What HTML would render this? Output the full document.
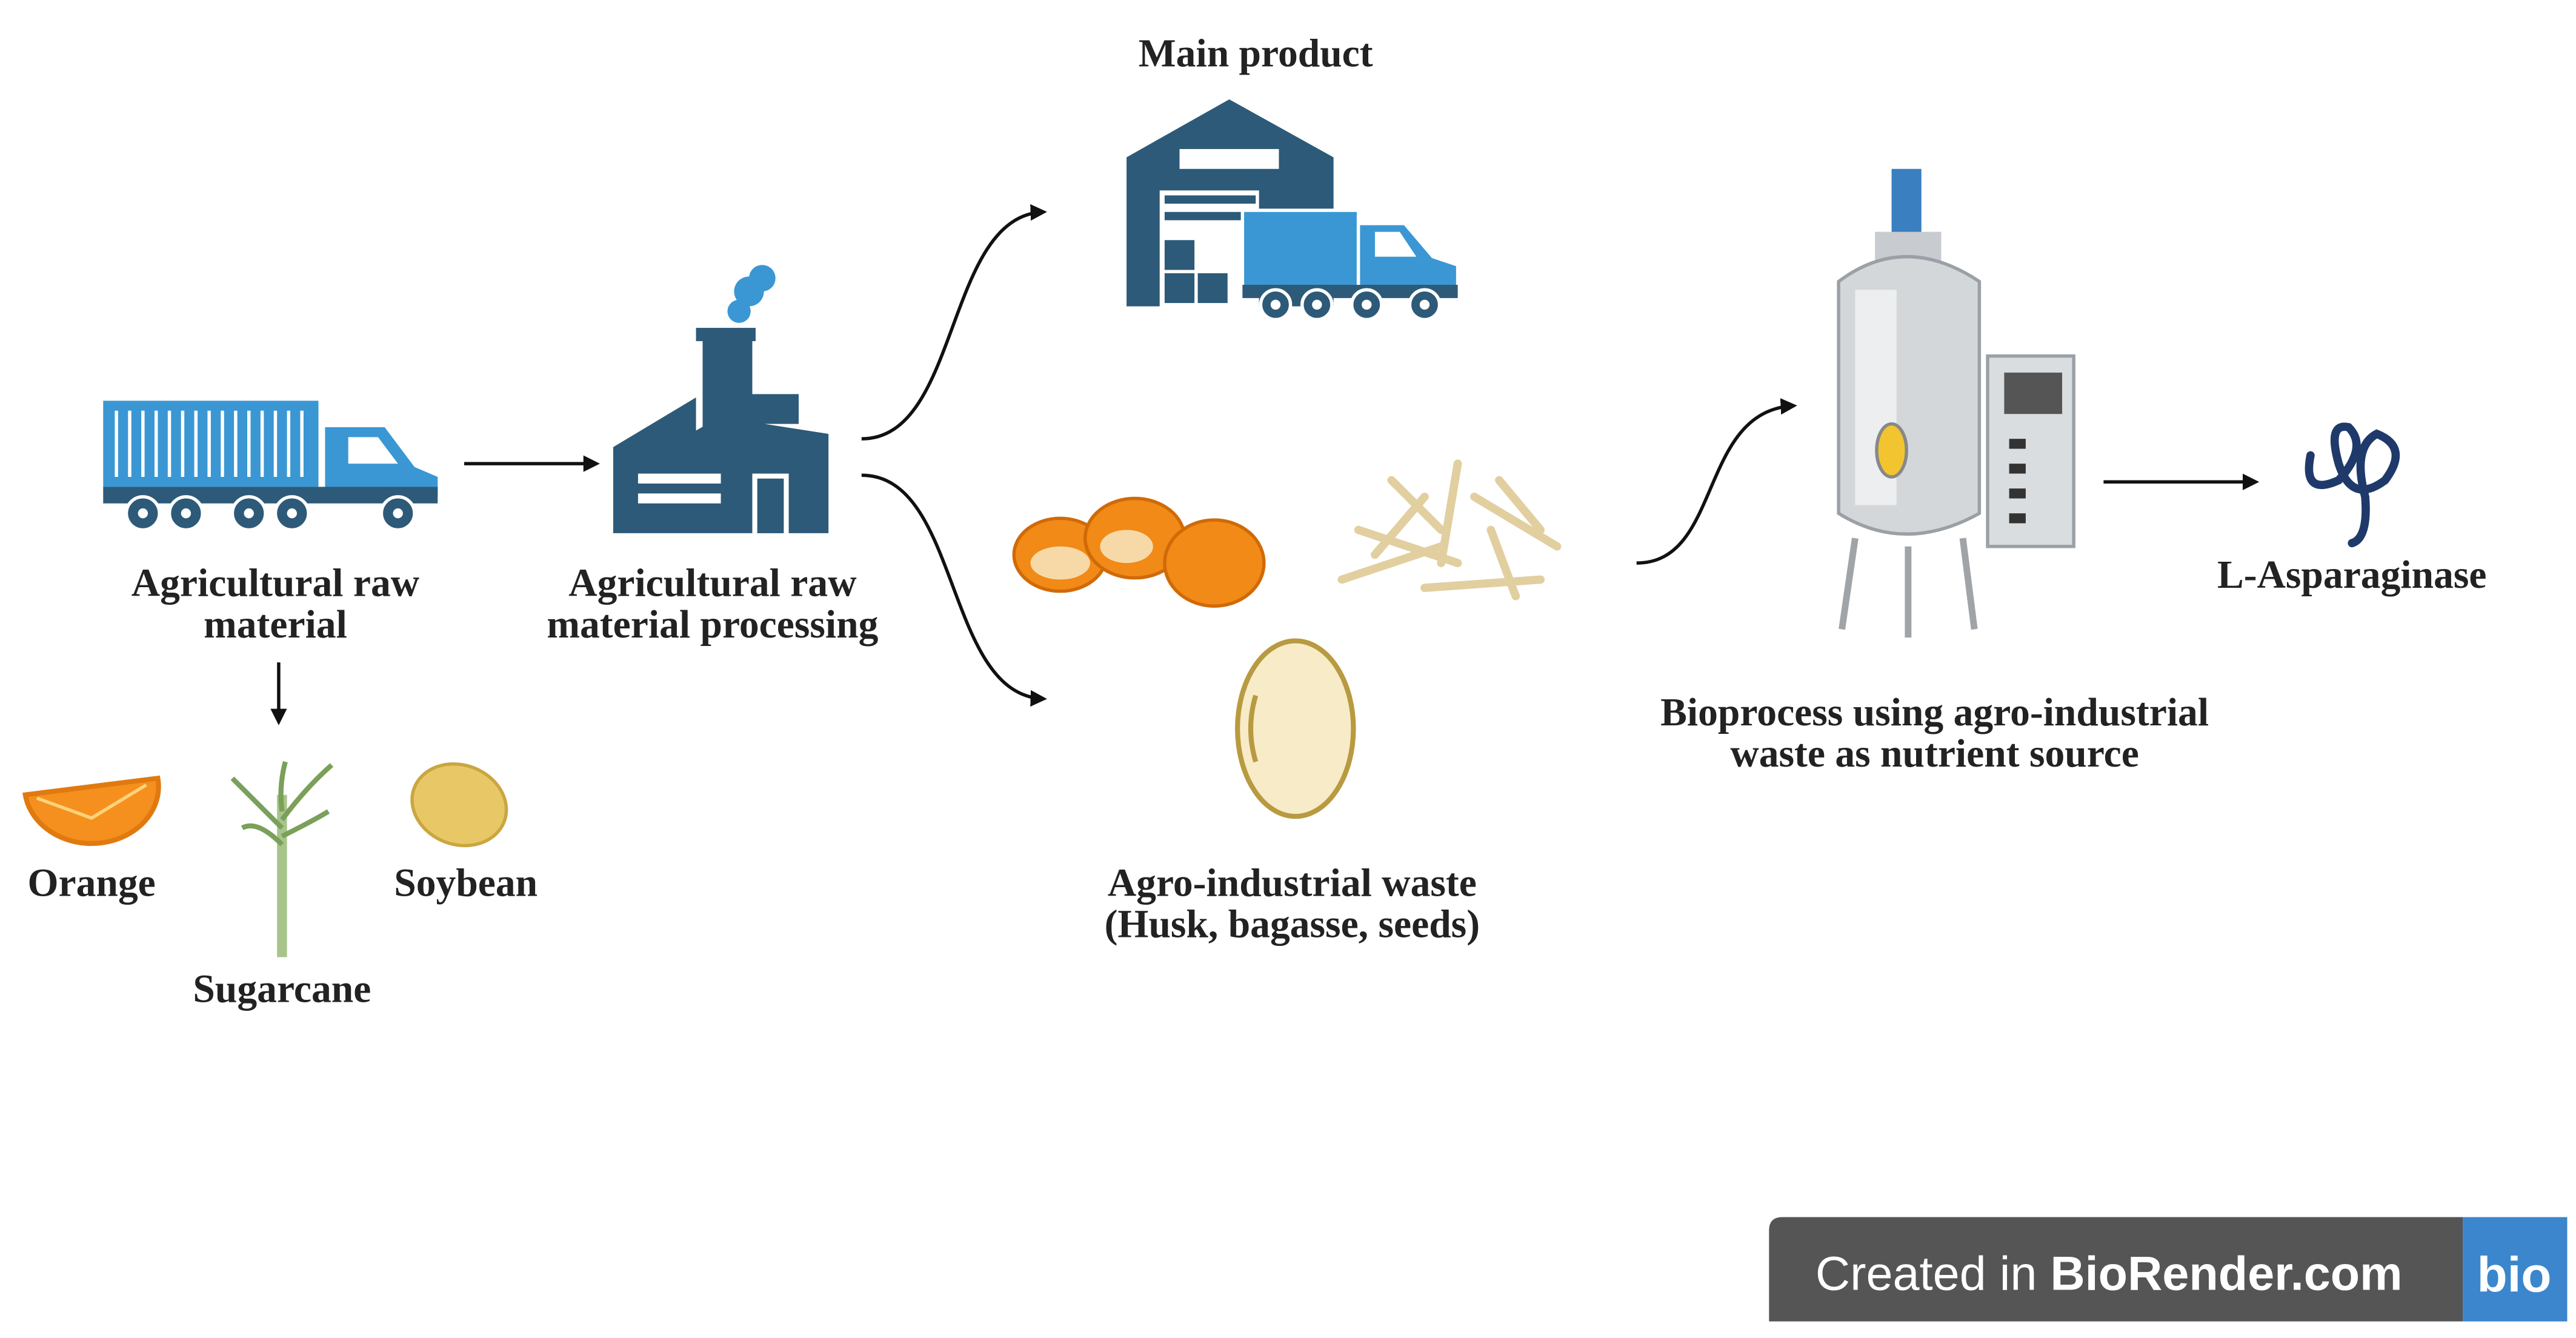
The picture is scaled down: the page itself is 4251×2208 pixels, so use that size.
<!DOCTYPE html>
<html><head><meta charset="utf-8"><style>
html,body{margin:0;padding:0;background:#fff;}
svg{display:block;}
text{font-family:"Liberation Serif",serif;font-weight:bold;fill:#222;}
</style></head><body>
<svg width="4251" height="2208" viewBox="0 0 1555 808" xmlns="http://www.w3.org/2000/svg">
<defs>
<marker id="ah" markerWidth="10" markerHeight="10" refX="8" refY="5" orient="auto" markerUnits="userSpaceOnUse">
<path d="M0,0 L10,5 L0,10 z" fill="#111"/></marker>
</defs>
<rect width="1555" height="808" fill="#fff"/>

<!-- Left truck -->
<g>
<rect x="62" y="242" width="130" height="52" fill="#3a97d4"/>
<g stroke="#fff" stroke-width="2">
<line x1="70" y1="248" x2="70" y2="288"/><line x1="78" y1="248" x2="78" y2="288"/><line x1="86" y1="248" x2="86" y2="288"/><line x1="94" y1="248" x2="94" y2="288"/><line x1="102" y1="248" x2="102" y2="288"/><line x1="110" y1="248" x2="110" y2="288"/><line x1="118" y1="248" x2="118" y2="288"/><line x1="126" y1="248" x2="126" y2="288"/><line x1="134" y1="248" x2="134" y2="288"/><line x1="142" y1="248" x2="142" y2="288"/><line x1="150" y1="248" x2="150" y2="288"/><line x1="158" y1="248" x2="158" y2="288"/><line x1="166" y1="248" x2="166" y2="288"/><line x1="174" y1="248" x2="174" y2="288"/><line x1="182" y1="248" x2="182" y2="288"/>
</g>
<path d="M196,258 L232,258 L250,282 L264,288 L264,300 L196,300 z" fill="#3a97d4"/>
<path d="M210,264 L228,264 L240,280 L210,280 z" fill="#fff"/>
<rect x="62" y="294" width="202" height="10" fill="#2d5a78"/>
<g fill="#2d5a78" stroke="#fff" stroke-width="2">
<circle cx="86" cy="310" r="10"/><circle cx="112" cy="310" r="10"/><circle cx="150" cy="310" r="10"/><circle cx="176" cy="310" r="10"/><circle cx="240" cy="310" r="10"/>
</g>
<g fill="#fff"><circle cx="86" cy="310" r="3"/><circle cx="112" cy="310" r="3"/><circle cx="150" cy="310" r="3"/><circle cx="176" cy="310" r="3"/><circle cx="240" cy="310" r="3"/></g>
</g>
<text x="166" y="360" font-size="24" text-anchor="middle">Agricultural raw</text>
<text x="166" y="385" font-size="24" text-anchor="middle">material</text>
<line x1="168" y1="400" x2="168" y2="436" stroke="#111" stroke-width="2" marker-end="url(#ah)"/>

<!-- Orange slice -->
<path d="M15,480 A40,34 0 0 0 95,470 z" fill="#f5901e" stroke="#e07a10" stroke-width="3"/>
<path d="M22,482 L55,494 L88,474" stroke="#ffd27a" stroke-width="2" fill="none"/>
<text x="55" y="541" font-size="24" text-anchor="middle">Orange</text>
<!-- Sugarcane -->
<rect x="167" y="480" width="6" height="98" fill="#a8c48a"/>
<g stroke="#7aa05a" stroke-width="3" fill="none">
<path d="M170,500 Q150,480 140,470"/><path d="M170,495 Q185,475 200,462"/><path d="M170,510 Q155,495 146,500"/><path d="M170,505 Q190,495 198,490"/><path d="M170,490 Q168,475 172,460"/>
</g>
<text x="170" y="605" font-size="24" text-anchor="middle">Sugarcane</text>
<!-- Soybean -->
<ellipse cx="277" cy="486" rx="29" ry="24" fill="#e8c866" stroke="#c9a640" stroke-width="2" transform="rotate(20 277 486)"/>
<text x="281" y="541" font-size="24" text-anchor="middle">Soybean</text>

<line x1="280" y1="280" x2="360" y2="280" stroke="#111" stroke-width="2" marker-end="url(#ah)"/>

<!-- Factory -->
<g fill="#2d5a78">
<rect x="424" y="200" width="30" height="70"/>
<rect x="420" y="198" width="36" height="8"/>
<path d="M370,270 L420,240 L420,260 L455,240 L455,255 L500,262 L500,322 L370,322 z"/>
<rect x="454" y="238" width="28" height="18"/>
</g>
<g fill="#fff"><rect x="385" y="286" width="50" height="6"/><rect x="385" y="298" width="50" height="6"/><rect x="454" y="286" width="22" height="36"/></g>
<rect x="457" y="289" width="16" height="33" fill="#2d5a78"/>
<g fill="#3a97d4"><circle cx="446" cy="188" r="7"/><circle cx="452" cy="176" r="9"/><circle cx="460" cy="168" r="8"/></g>
<text x="430" y="360" font-size="24" text-anchor="middle">Agricultural raw</text>
<text x="430" y="385" font-size="24" text-anchor="middle">material processing</text>

<path d="M520,265 C580,265 570,130 630,128" stroke="#111" stroke-width="2" fill="none" marker-end="url(#ah)"/>
<path d="M520,287 C580,287 570,420 630,422" stroke="#111" stroke-width="2" fill="none" marker-end="url(#ah)"/>

<!-- Warehouse -->
<text x="758" y="40" font-size="24" text-anchor="middle">Main product</text>
<path d="M680,95 L742,60 L805,95 L805,185 L680,185 z" fill="#2d5a78"/>
<rect x="712" y="90" width="60" height="12" fill="#fff"/>
<rect x="700" y="115" width="60" height="70" fill="#fff"/>
<g fill="#2d5a78"><rect x="703" y="145" width="18" height="18"/><rect x="703" y="165" width="18" height="18"/><rect x="723" y="165" width="18" height="18"/><rect x="703" y="118" width="55" height="5"/><rect x="703" y="128" width="55" height="5"/></g>
<rect x="750" y="127" width="70" height="50" fill="#3a97d4" stroke="#fff" stroke-width="2"/>
<path d="M820,135 L848,135 L865,155 L880,160 L880,180 L820,180 z" fill="#3a97d4" stroke="#fff" stroke-width="2"/>
<path d="M830,140 L845,140 L855,155 L830,155 z" fill="#fff"/>
<rect x="750" y="172" width="130" height="8" fill="#2d5a78"/>
<g fill="#2d5a78" stroke="#fff" stroke-width="2"><circle cx="770" cy="184" r="9"/><circle cx="795" cy="184" r="9"/><circle cx="825" cy="184" r="9"/><circle cx="860" cy="184" r="9"/></g>
<g fill="#fff"><circle cx="770" cy="184" r="3"/><circle cx="795" cy="184" r="3"/><circle cx="825" cy="184" r="3"/><circle cx="860" cy="184" r="3"/></g>

<!-- Orange peels -->
<g fill="#f18a16" stroke="#d06a08" stroke-width="2">
<ellipse cx="640" cy="335" rx="28" ry="22"/>
<ellipse cx="685" cy="325" rx="30" ry="24"/>
<ellipse cx="733" cy="340" rx="30" ry="26"/>
</g>
<g fill="#f7d9a8"><ellipse cx="640" cy="340" rx="18" ry="10"/><ellipse cx="680" cy="330" rx="16" ry="10"/></g>
<!-- Bagasse -->
<g stroke="#e2cfa0" stroke-width="5" stroke-linecap="round" fill="none">
<path d="M810,350 L870,330"/><path d="M820,320 L880,340"/><path d="M840,290 L870,320"/><path d="M880,280 L870,340"/><path d="M890,300 L940,330"/><path d="M860,355 L930,350"/><path d="M900,320 L915,360"/><path d="M830,335 L860,300"/><path d="M905,290 L930,320"/>
</g>
<!-- Seed -->
<ellipse cx="782" cy="440" rx="35" ry="53" fill="#f7ebc8" stroke="#b89a40" stroke-width="3"/>
<path d="M758,420 Q752,440 758,460" stroke="#b89a40" stroke-width="3" fill="none"/>
<text x="780" y="541" font-size="24" text-anchor="middle">Agro-industrial waste</text>
<text x="780" y="566" font-size="24" text-anchor="middle">(Husk, bagasse, seeds)</text>

<path d="M988,340 C1040,340 1025,248 1083,245" stroke="#111" stroke-width="2" fill="none" marker-end="url(#ah)"/>

<!-- Bioreactor -->
<rect x="1142" y="102" width="18" height="40" fill="#3a7fc0"/>
<rect x="1132" y="140" width="40" height="20" fill="#c8ccd0"/>
<path d="M1110,170 Q1150,140 1195,170 L1195,310 Q1150,335 1110,310 z" fill="#d4d7da" stroke="#9aa0a6" stroke-width="2"/>
<rect x="1120" y="175" width="25" height="130" fill="#eceef0"/>
<ellipse cx="1142" cy="272" rx="9" ry="16" fill="#f2c530" stroke="#888" stroke-width="2"/>
<g stroke="#a0a4a8" stroke-width="4"><line x1="1120" y1="325" x2="1112" y2="380"/><line x1="1185" y1="325" x2="1192" y2="380"/><line x1="1152" y1="330" x2="1152" y2="385"/></g>
<rect x="1200" y="215" width="52" height="115" fill="#dadde0" stroke="#9aa0a6" stroke-width="2"/>
<rect x="1210" y="225" width="35" height="25" fill="#555"/>
<g fill="#333"><rect x="1213" y="265" width="10" height="6"/><rect x="1213" y="280" width="10" height="6"/><rect x="1213" y="295" width="10" height="6"/><rect x="1213" y="310" width="10" height="6"/></g>
<text x="1168" y="438" font-size="24" text-anchor="middle">Bioprocess using agro-industrial</text>
<text x="1168" y="463" font-size="24" text-anchor="middle">waste as nutrient source</text>

<line x1="1270" y1="291" x2="1362" y2="291" stroke="#111" stroke-width="2" marker-end="url(#ah)"/>

<!-- Enzyme -->
<path d="M1395,275 Q1390,300 1412,290 Q1430,270 1418,258 Q1405,255 1412,280 Q1420,305 1440,290 Q1455,270 1435,262 Q1420,270 1428,300 Q1430,325 1420,328" stroke="#1f3a6a" stroke-width="5" fill="none" stroke-linecap="round"/>
<text x="1420" y="355" font-size="24" text-anchor="middle">L-Asparaginase</text>

<!-- Badge -->
<path d="M1076,735 L1487,735 L1487,798 L1068,798 L1068,743 Q1068,735 1076,735 z" fill="#555"/>
<rect x="1487" y="735" width="63" height="63" fill="#3b86cc"/>
<text x="1096" y="779" font-size="29" style="font-family:'Liberation Sans',sans-serif;font-weight:normal;fill:#fff">Created in <tspan font-weight="bold">BioRender.com</tspan></text>
<text x="1518" y="780" font-size="30" text-anchor="middle" style="font-family:'Liberation Sans',sans-serif;font-weight:bold;fill:#fff">bio</text>
</svg>
</body></html>
